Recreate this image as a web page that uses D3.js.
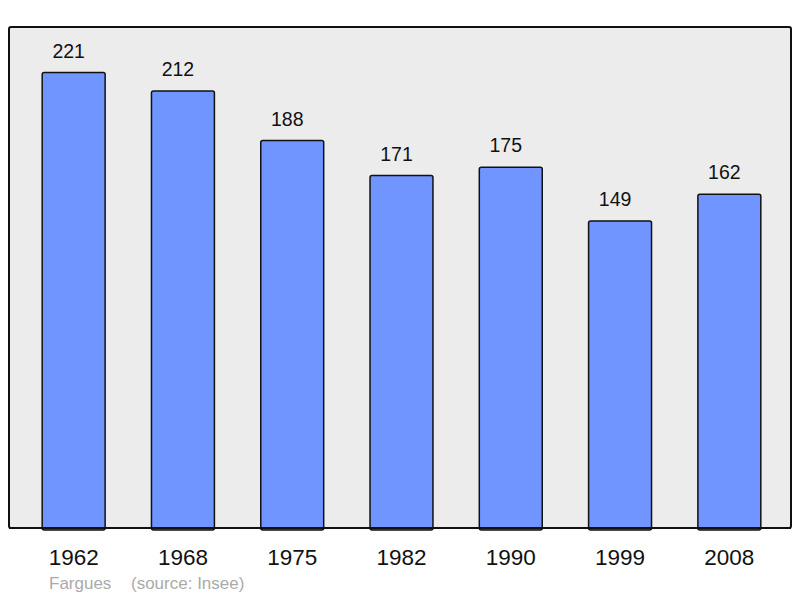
<!DOCTYPE html>
<html>
<head>
<meta charset="utf-8">
<script src="https://cdn.jsdelivr.net/npm/d3@7"></script>
<style>
    body { margin: 0; background: #fff; }
    text { font-family: "Liberation Sans", Arial, sans-serif; }
</style>
</head>
<body>
<svg id="mysvg"></svg>
<script>
var years = ["1962", "1968", "1975", "1982", "1990", "1999", "2008"];
var population = [221, 212, 188, 171, 175, 149, 162];
var townName = "Fargues";
var sourceLabel = "(source: Insee)";

var WIDTH = 800, HEIGHT = 598;
var panel = {x0: 9, y0: 27, x1: 791, y1: 528};
var LABEL_SHIFT = -5; // value labels sit a bit left of the bar centre

var mysvg = d3.select("#mysvg")
    .attr("width", WIDTH)
    .attr("height", HEIGHT);

// background panel
mysvg.append("rect")
    .attr("x", panel.x0)
    .attr("y", panel.y0)
    .attr("width", panel.x1 - panel.x0)
    .attr("height", panel.y1 - panel.y0)
    .attr("rx", 2)
    .attr("fill", "#ececec")
    .attr("stroke", "#111")
    .attr("stroke-width", 2);

var x = d3.scaleBand()
    .domain(years)
    .range([panel.x0 + 1.5, panel.x1 + 1.5])
    .paddingInner(0.424)
    .paddingOuter(0.29);

var y = d3.scaleLinear()
    .domain([0, d3.max(population) * 1.1])
    .range([panel.y1, panel.y0]);

var bars = mysvg.selectAll("g.bar")
    .data(years)
    .enter().append("g")
    .attr("class", "bar");

bars.append("rect")
    .attr("x", function(d) { return x(d); })
    .attr("y", function(d, i) { return y(population[i]); })
    .attr("width", x.bandwidth())
    .attr("height", function(d, i) { return y(0) - y(population[i]) + 2; })
    .attr("rx", 2)
    .attr("fill", "#7195ff")
    .attr("stroke", "#111")
    .attr("stroke-width", 1.5);

bars.append("text")
    .attr("x", function(d) { return x(d) + x.bandwidth() / 2 + LABEL_SHIFT; })
    .attr("y", function(d, i) { return y(population[i]) - 15; })
    .attr("text-anchor", "middle")
    .attr("font-size", 19.5)
    .attr("fill", "#111")
    .text(function(d, i) { return population[i]; });

// redraw bottom border over bar feet
mysvg.append("line")
    .attr("x1", panel.x0)
    .attr("x2", panel.x1)
    .attr("y1", panel.y1)
    .attr("y2", panel.y1)
    .attr("stroke", "#111")
    .attr("stroke-width", 2);

// year labels
var xAxis = d3.axisBottom(x).tickSize(0).tickPadding(0);
var axisG = mysvg.append("g")
    .attr("transform", "translate(0," + panel.y1 + ")")
    .call(xAxis);
axisG.select(".domain").remove();
axisG.selectAll("text")
    .attr("dy", null)
    .attr("y", 37)
    .attr("font-size", 22.5)
    .attr("font-family", "Liberation Sans, Arial, sans-serif")
    .attr("fill", "#111");

mysvg.append("text")
    .attr("x", 49)
    .attr("y", 589)
    .attr("font-size", 17)
    .attr("fill", "#aaa")
    .text(townName);

mysvg.append("text")
    .attr("x", 131)
    .attr("y", 589)
    .attr("font-size", 17)
    .attr("fill", "#aaa")
    .text(sourceLabel);
</script>
</body>
</html>
